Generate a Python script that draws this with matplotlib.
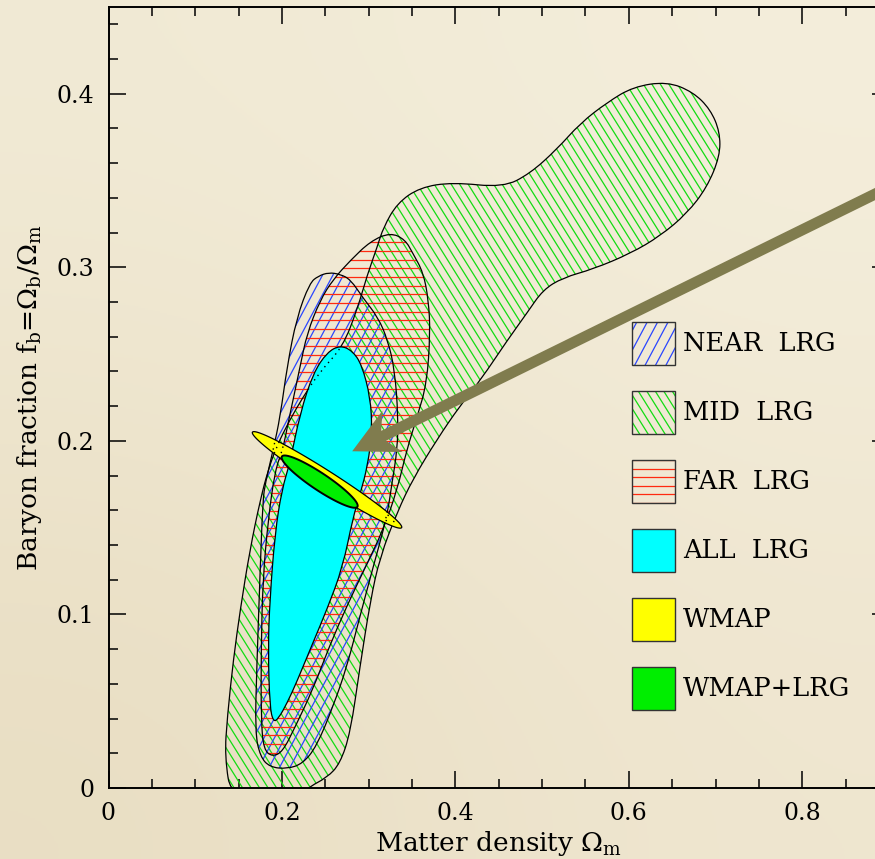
import numpy as np
import matplotlib
matplotlib.use("Agg")
import matplotlib.pyplot as plt
from matplotlib.patches import Polygon, Rectangle, PathPatch
from matplotlib.path import Path
from matplotlib.collections import LineCollection
from matplotlib.transforms import IdentityTransform
from matplotlib.ticker import MultipleLocator, FormatStrFormatter

plt.rcParams['font.family'] = 'DejaVu Serif'
plt.rcParams['mathtext.fontset'] = 'dejavuserif'

# contour outlines: (Omega_m, f_b)
mid_om = [0.142, 0.134, 0.137, 0.144, 0.152, 0.163, 0.175, 0.184, 0.194, 0.209,
          0.224, 0.244, 0.270, 0.287, 0.298, 0.310, 0.317, 0.333, 0.359, 0.397,
          0.455, 0.486, 0.517, 0.544, 0.575, 0.605, 0.644, 0.674, 0.694, 0.705,
          0.705, 0.690, 0.667, 0.636, 0.602, 0.559, 0.524, 0.501, 0.483, 0.460,
          0.429, 0.405, 0.379, 0.351, 0.333, 0.313, 0.302, 0.290, 0.279, 0.267,
          0.252, 0.229, 0.221]
mid_fb = [-0.007, 0.018, 0.041, 0.074, 0.103, 0.137, 0.166, 0.183, 0.197, 0.212,
          0.225, 0.240, 0.254, 0.276, 0.295, 0.312, 0.323, 0.337, 0.346, 0.349,
          0.346, 0.354, 0.368, 0.383, 0.395, 0.404, 0.407, 0.401, 0.391, 0.378,
          0.364, 0.346, 0.331, 0.318, 0.308, 0.299, 0.294, 0.287, 0.274, 0.258,
          0.235, 0.220, 0.201, 0.178, 0.159, 0.133, 0.108, 0.070, 0.032, 0.014,
          0.006, 0.000, -0.007]

near_om = [0.254, 0.267, 0.279, 0.294, 0.311, 0.322, 0.330, 0.334, 0.333, 0.327,
           0.321, 0.305, 0.290, 0.275, 0.259, 0.240, 0.224, 0.206, 0.186, 0.175,
           0.169, 0.171, 0.175, 0.178, 0.181, 0.190, 0.198, 0.206, 0.217, 0.232,
           0.242]
near_fb = [0.297, 0.296, 0.293, 0.282, 0.271, 0.258, 0.241, 0.214, 0.195, 0.176,
           0.156, 0.127, 0.099, 0.070, 0.047, 0.024, 0.014, 0.011, 0.012, 0.018,
           0.032, 0.070, 0.127, 0.166, 0.176, 0.195, 0.214, 0.243, 0.271, 0.291,
           0.295]

far_om = [0.325, 0.342, 0.351, 0.363, 0.369, 0.371, 0.367, 0.356, 0.344, 0.333,
          0.317, 0.296, 0.275, 0.255, 0.235, 0.215, 0.201, 0.189, 0.179, 0.176,
          0.176, 0.178, 0.184, 0.192, 0.201, 0.207, 0.213, 0.221, 0.229, 0.244,
          0.259, 0.279, 0.302]
far_fb = [0.320, 0.316, 0.308, 0.297, 0.281, 0.262, 0.233, 0.214, 0.195, 0.172,
          0.149, 0.127, 0.105, 0.082, 0.056, 0.035, 0.021, 0.018, 0.022, 0.039,
          0.080, 0.120, 0.154, 0.183, 0.195, 0.210, 0.224, 0.243, 0.262, 0.281,
          0.293, 0.304, 0.315]

all_om = [0.190, 0.186, 0.184, 0.186, 0.192, 0.200, 0.209, 0.221, 0.236, 0.252,
          0.267, 0.281, 0.292, 0.302, 0.304, 0.299, 0.290, 0.282, 0.270, 0.252,
          0.236, 0.217, 0.206, 0.196]
all_fb = [0.038, 0.047, 0.080, 0.108, 0.147, 0.172, 0.187, 0.216, 0.239, 0.251,
          0.255, 0.252, 0.244, 0.225, 0.206, 0.186, 0.169, 0.156, 0.127, 0.103,
          0.084, 0.061, 0.049, 0.040]

# ellipse tips of the WMAP and WMAP+LRG regions
wmap_om = [0.166, 0.338]
wmap_fb = [0.205, 0.150]
combo_om = [0.200, 0.287]
combo_fb = [0.191, 0.162]

# arrow: tail (off the plot) -> tip
arrow_om = [0.936, 0.281]
arrow_fb = [0.355, 0.194]

legend_labels = ['NEAR  LRG', 'MID  LRG', 'FAR  LRG', 'ALL  LRG', 'WMAP', 'WMAP+LRG']

GREEN_H = '#12dc12'
BLUE_H = '#2a46ff'
RED_H = '#ff2a10'
CYAN = '#00ffff'
YELLOW = '#ffff00'
GREEN = '#00ee00'
OLIVE = '#807c4e'


def smooth_path(om, fb):
    # closed quadratic-bezier path with the read points as control points
    xy = np.column_stack([om, fb])
    mids = (xy + np.roll(xy, -1, axis=0)) / 2
    verts = [mids[-1]]
    codes = [Path.MOVETO]
    for i in range(len(xy)):
        verts += [xy[i], mids[i]]
        codes += [Path.CURVE3, Path.CURVE3]
    verts.append(mids[-1])
    codes.append(Path.CLOSEPOLY)
    return Path(np.array(verts), codes)


def hatch(ax, patch, angle, spacing, color, z):
    # straight hatch lines in pixel space, clipped to the patch outline
    verts = patch.get_transform().transform(patch.get_path().vertices)
    lo, hi = verts.min(0), verts.max(0)
    c = (lo + hi) / 2
    r = np.hypot(*(hi - lo)) / 2 + spacing
    a = np.radians(angle)
    d = np.array([np.cos(a), np.sin(a)])
    n = np.array([-d[1], d[0]])
    segs = [[c + o * n - r * d, c + o * n + r * d]
            for o in np.arange(-r, r + spacing, spacing)]
    lc = LineCollection(segs, colors=color, linewidths=0.9,
                        transform=IdentityTransform(), zorder=z)
    ax.add_collection(lc, autolim=False)
    lc.set_clip_path(patch)
    return lc


def ellipse(ax, om, fb, half_w, **kw):
    p = ax.transData.transform(np.column_stack([om, fb]))
    c = p.mean(0)
    v = p[1] - p[0]
    L = np.hypot(*v) / 2
    u = v / (2 * L)
    n = np.array([-u[1], u[0]])
    t = np.linspace(0, 2 * np.pi, 240)
    pts = c + np.outer(L * np.cos(t), u) + np.outer(half_w * np.sin(t), n)
    poly = Polygon(ax.transData.inverted().transform(pts), closed=True, **kw)
    ax.add_patch(poly)
    return poly


fig = plt.figure(figsize=(8.75, 8.59), dpi=100)

# parchment background
bg = fig.add_axes([0, 0, 1, 1], zorder=-10)
bg.axis('off')
grad = np.array([[[0.945, 0.918, 0.835], [0.957, 0.933, 0.860]],
                 [[0.914, 0.871, 0.765], [0.937, 0.902, 0.815]]])
bg.imshow(grad, extent=[0, 1, 0, 1], aspect='auto', interpolation='bicubic')

ax = fig.add_axes([0.124, 0.0827, 0.892, 0.9092])
ax.set_facecolor('none')
ax.set_xlim(0, 0.9)
ax.set_ylim(0, 0.45)

regions = [
    (mid_om, mid_fb, -58, 7.2, GREEN_H),
    (near_om, near_fb, 62, 9.2, BLUE_H),
    (far_om, far_fb, 0, 8.65, RED_H),
]
outlines = []
for om, fb, ang, sp, col in regions:
    path = smooth_path(om, fb)
    patch = PathPatch(path, facecolor='none', edgecolor='black',
                      linewidth=0.9, zorder=3)
    ax.add_patch(patch)
    hatch(ax, patch, ang, sp, col, z=2)
    outlines.append(path)

cyan = PathPatch(smooth_path(all_om, all_fb), facecolor=CYAN,
                 edgecolor='black', linewidth=0.9, zorder=5)
ax.add_patch(cyan)

yellow = ellipse(ax, wmap_om, wmap_fb, 8.5, facecolor=YELLOW,
                 edgecolor='black', linewidth=0.9, zorder=7)
ellipse(ax, combo_om, combo_fb, 8.5, facecolor=GREEN,
        edgecolor='black', linewidth=1.4, zorder=9)

# contours hidden under the filled regions show as dotted lines
for clip, z in [(cyan, 6), (yellow, 8)]:
    for path in outlines:
        dp = PathPatch(path, fill=False, edgecolor='black',
                       linewidth=1.0, linestyle=(0, (1, 3)), zorder=z)
        ax.add_patch(dp)
        dp.set_clip_path(clip)

# big arrow
p = ax.transData.transform(np.column_stack([arrow_om, arrow_fb]))
tail, tip = p
u = (tip - tail) / np.hypot(*(tip - tail))
n = np.array([-u[1], u[0]])
hl, hw, tw, notch = 45, 23, 5.5, 10
pts = [tail + tw * n, tip - (hl - notch) * u + tw * n, tip - hl * u + hw * n, tip,
       tip - hl * u - hw * n, tip - (hl - notch) * u - tw * n, tail - tw * n]
arrow = Polygon(ax.transData.inverted().transform(np.array(pts)), closed=True,
                facecolor=OLIVE, edgecolor='none', zorder=12, clip_on=False)
ax.add_patch(arrow)

# legend
faces = ['none', 'none', 'none', CYAN, YELLOW, GREEN]
hatches = [(62, 9.2, BLUE_H), (-58, 7.2, GREEN_H), (0, 8.65, RED_H), None, None, None]
box_x, box_w, box_top, step = 0.6707, 0.0551, 0.5967, 0.0883
for i, lab in enumerate(legend_labels):
    y0 = box_top - i * step - box_w
    rect = Rectangle((box_x, y0), box_w, box_w, transform=ax.transAxes,
                     facecolor=faces[i], edgecolor='#333333', linewidth=1.0, zorder=11)
    ax.add_patch(rect)
    if hatches[i] is not None:
        hatch(ax, rect, *hatches[i], z=10.5)
    ax.text(0.736, y0 + box_w / 2, lab, transform=ax.transAxes, fontsize=18.5,
            va='center', ha='left', zorder=11)

ax.xaxis.set_major_locator(MultipleLocator(0.2))
ax.xaxis.set_minor_locator(MultipleLocator(0.05))
ax.yaxis.set_major_locator(MultipleLocator(0.1))
ax.yaxis.set_minor_locator(MultipleLocator(0.02))
ax.xaxis.set_major_formatter(FormatStrFormatter('%g'))
ax.yaxis.set_major_formatter(FormatStrFormatter('%g'))
ax.tick_params(which='both', direction='in', top=True, right=True, width=1.1,
               labelsize=17, pad=10)
ax.tick_params(which='major', length=12)
ax.tick_params(which='minor', length=6.5)
for s in ax.spines.values():
    s.set_linewidth(1.4)

ax.set_xlabel(r'Matter density $\Omega_\mathrm{m}$', fontsize=19)
ax.set_ylabel(r'Baryon fraction f$_\mathrm{b}$=$\Omega_\mathrm{b}/\Omega_\mathrm{m}$',
              fontsize=19)
ax.xaxis.set_label_coords(0.5, -0.052)
ax.yaxis.set_label_coords(-0.083, 0.5)

fig.savefig('out.png', dpi=100)
